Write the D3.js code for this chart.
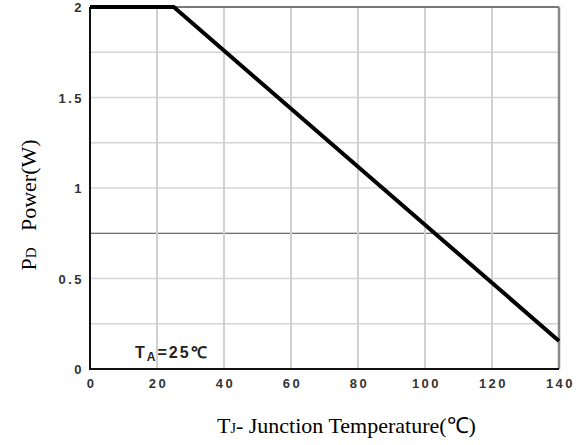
<!DOCTYPE html>
<html>
<head>
<meta charset="utf-8">
<script src="https://cdn.jsdelivr.net/npm/d3@7"></script>
<style>
  body { margin: 0; background: #fff; }
  .tick-label { font-family: "Liberation Sans", Arial, sans-serif; font-weight: bold; font-size: 13px; fill: #333; letter-spacing: 2.5px; }
  .note { font-family: "Liberation Sans", Arial, sans-serif; font-weight: bold; font-size: 16px; fill: #222; }
  .title { font-family: "Liberation Serif", "Times New Roman", serif; font-size: 22px; fill: #000; }
</style>
</head>
<body>
<div id="container"></div>
<script>
// derating curve: junction temperature (C) vs power (W)
var tempValues = [0, 25, 140];
var powerValues = [2, 2, 0.155];
var xTicks = [0, 20, 40, 60, 80, 100, 120, 140];
var yTicks = [0, 0.5, 1, 1.5, 2];
var yTickLabels = ["0", "0.5", "1", "1.5", "2"];
var yGrid = [0.25, 0.5, 1, 1.25, 1.5, 1.75];

var width = 584, height = 445;
var mLeft = 90, mRight = 559, mTop = 7, mBottom = 369;

var svg = d3.select("#container").append("svg")
  .attr("width", width).attr("height", height);

var x = d3.scaleLinear().domain([0, 140]).range([mLeft, mRight]);
var y = d3.scaleLinear().domain([0, 2]).range([mBottom, mTop]);

// grid
svg.append("g").selectAll("line").data(yGrid).enter().append("line")
  .attr("x1", mLeft).attr("x2", mRight)
  .attr("y1", function (d) { return y(d); }).attr("y2", function (d) { return y(d); })
  .attr("stroke", "#d4d4d4").attr("stroke-width", 1.5);
svg.append("line")
  .attr("x1", mLeft).attr("x2", mRight).attr("y1", y(0.75)).attr("y2", y(0.75))
  .attr("stroke", "#444").attr("stroke-width", 1);
svg.append("g").selectAll("line").data(xTicks.slice(1, -1)).enter().append("line")
  .attr("x1", function (d) { return x(d); }).attr("x2", function (d) { return x(d); })
  .attr("y1", mTop).attr("y2", mBottom)
  .attr("stroke", "#d0d0d0").attr("stroke-width", 2);

// frame
svg.append("line").attr("x1", mLeft).attr("x2", mRight).attr("y1", mTop).attr("y2", mTop)
  .attr("stroke", "#777").attr("stroke-width", 2);
svg.append("line").attr("x1", mRight).attr("x2", mRight).attr("y1", mTop).attr("y2", mBottom)
  .attr("stroke", "#888").attr("stroke-width", 2.5);
svg.append("line").attr("x1", mLeft).attr("x2", mLeft).attr("y1", mTop).attr("y2", mBottom + 1)
  .attr("stroke", "#111").attr("stroke-width", 2);
svg.append("line").attr("x1", mLeft).attr("x2", mRight).attr("y1", mBottom).attr("y2", mBottom)
  .attr("stroke", "#111").attr("stroke-width", 2);

// tick labels
svg.append("g").selectAll("text").data(xTicks).enter().append("text")
  .attr("class", "tick-label")
  .attr("x", function (d) { return x(d) + 1.5; }).attr("y", mBottom + 19)
  .attr("text-anchor", "middle")
  .text(function (d) { return d; });
svg.append("g").selectAll("text").data(yTicks).enter().append("text")
  .attr("class", "tick-label")
  .attr("x", mLeft - 6).attr("y", function (d) { return y(d) + 5; })
  .attr("text-anchor", "end")
  .text(function (d, i) { return yTickLabels[i]; });

// curve
var line = d3.line()
  .x(function (d, i) { return x(tempValues[i]); })
  .y(function (d) { return y(d); });
svg.append("path").datum(powerValues)
  .attr("d", line).attr("fill", "none")
  .attr("stroke", "#000").attr("stroke-width", 4);

// annotation
var ann = svg.append("text").attr("class", "note")
  .attr("x", 135).attr("y", 358).style("letter-spacing", "2px");
ann.append("tspan").text("T");
ann.append("tspan").attr("dy", 3).style("font-size", "12px").text("A");
ann.append("tspan").attr("dy", -3).text("=25\u2103");

// axis titles
var xt = svg.append("text").attr("class", "title")
  .attr("x", 217).attr("y", 433);
xt.append("tspan").text("T");
xt.append("tspan").style("font-size", "14px").text("J");
xt.append("tspan").text("- Junction Temperature(\u2103)");

var yt = svg.append("text").attr("class", "title")
  .attr("transform", "translate(36,205) rotate(-90)")
  .attr("text-anchor", "middle")
  .attr("xml:space", "preserve");
yt.append("tspan").text("P");
yt.append("tspan").style("font-size", "15px").text("D");
yt.append("tspan").text("   Power(W)");
</script>
</body>
</html>
